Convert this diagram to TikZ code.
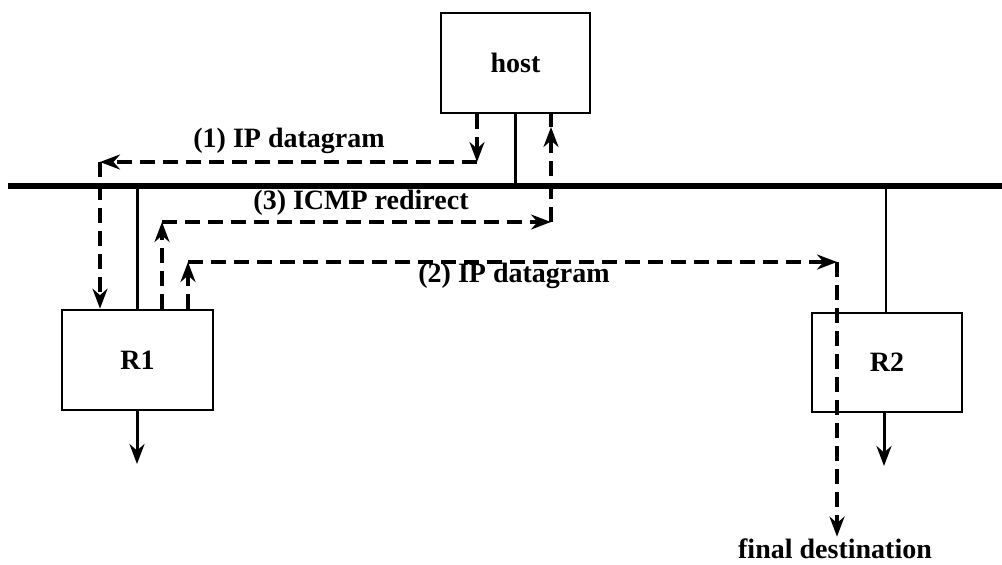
\documentclass[tikz,border=0pt]{standalone}
\usepackage{fontspec}
\setmainfont{Liberation Serif}
\usetikzlibrary{arrows.meta, positioning, calc}
\tikzset{
  rbox/.style ={rectangle, draw=black, line width=1.3pt, fill=white, align=center,
                font=\bfseries\fontsize{14}{16}\selectfont},
  bus/.style  ={line width=2.8pt},
  wire/.style ={line width=1.1pt},
  msg/.style  ={dashed, dash pattern=on 7.5pt off 4pt, line width=1.6pt,
                -{Stealth[length=10pt, width=7.5pt]}},
  dline/.style={dashed, dash pattern=on 7.5pt off 4pt, line width=1.6pt},
  exitline/.style={line width=1.5pt, -{Stealth[length=10pt, width=7.5pt]}},
  lbl/.style  ={font=\bfseries\fontsize{14}{16}\selectfont, inner sep=1pt},
}
\begin{document}
\begin{tikzpicture}[x=0.5pt, y=-0.5pt]
    \useasboundingbox (0,0) rectangle (1002,564);
    % boxes
    \node[rbox, minimum width=74.5pt, minimum height=50pt] (host) at (515.5,63) {host};
    \node[rbox, minimum width=75.5pt, minimum height=50pt] (r1) at (137.5,360) {R1};
    \node[rbox, minimum width=75pt, minimum height=49.5pt] (r2) at (887,362.5) {R2};
    % the network
    \coordinate (netL) at (8,186);
    \coordinate (netR) at (1002,186);
    \draw[bus] (netL) -- (netR);
    \draw[wire] (host.south) -- (host.south |- netL);
    \draw[wire] (r1.north) -- (r1.north |- netL);
    \draw[wire] ($(r2.north)+(-1,0)$) -- ($(r2.north |- netL)+(-1,0)$);
    % outputs of the routers
    \coordinate (r1out) at (137,464);
    \coordinate (r2out) at (884,466);
    \draw[exitline] (r1.south -| r1out) -- (r1out);
    \draw[exitline] (r2.south -| r2out) -- (r2out);
    % (1) IP datagram
    \coordinate (a1) at (477,162);
    \coordinate (a2) at (100,162);
    \draw[msg] (host.south -| a1) -- (a1);
    \draw[msg] (a1) -- (a2);
    \draw[msg] (a2) -- (r1.north -| a2);
    \node[lbl] (l1) at (289,141) {(1) IP datagram};
    % (3) ICMP redirect
    \coordinate (b1) at (162,222);
    \coordinate (b2) at (551,222);
    \coordinate (b3) at (551,127);
    \draw[msg] (r1.north -| b1) -- (b1);
    \draw[msg] (b1) -- (b2);
    \draw[msg] (b2) -- (b3);
    \draw[dline] (b3) -- (host.south -| b3);
    \node[lbl] (l3) at (361,203) {(3) ICMP redirect};
    % (2) IP datagram
    \coordinate (c1) at (188,262);
    \coordinate (c2) at (837,262);
    \draw[msg] (r1.north -| c1) -- (c1);
    \draw[msg] (c1) -- (c2);
    \node[lbl] (dest) at (835,549) {final destination};
    \draw[msg] (c2) -- (dest.north -| c2);
    \node[lbl] (l2) at (514,276) {(2) IP datagram};
\end{tikzpicture}
\end{document}
